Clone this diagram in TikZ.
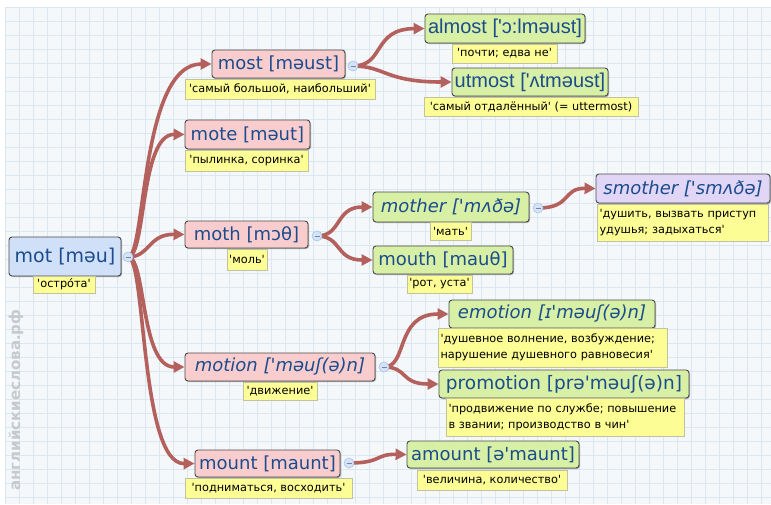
\documentclass[tikz,border=0pt]{standalone}
\usepackage{fontspec}
\setmainfont{DejaVu Sans}
\newfontfamily\trf{DejaVu Sans}
\newfontfamily\thinf{Liberation Sans}
\usetikzlibrary{arrows.meta,backgrounds,shadows}
\definecolor{bgcol}{HTML}{F4F8FB}
\definecolor{gridcol}{HTML}{DDE7F0}
\definecolor{conn}{RGB}{180,96,92}
\definecolor{rootfill}{HTML}{CFE0F8}
\definecolor{pinkfill}{HTML}{F9CDCD}
\definecolor{greenfill}{HTML}{D7F0A5}
\definecolor{lavfill}{HTML}{E2D6F7}
\definecolor{yelfill}{HTML}{FDFD96}
\definecolor{yelborder}{HTML}{C2C2A0}
\definecolor{wordblue}{HTML}{1B4C8E}
\definecolor{boxborder}{HTML}{4A4A4A}
\definecolor{circfill}{HTML}{D4E3F7}
\definecolor{circborder}{HTML}{A9C3E6}
\definecolor{wmark}{HTML}{C6CACE}
\newcommand{\q}{\textquotesingle}
\tikzset{
  word/.style={draw=boxborder, line width=0.9pt, rounded corners=3pt, inner sep=0pt,
    text=wordblue, font=\fontsize{18}{20}\selectfont,
    drop shadow={shadow xshift=1pt,shadow yshift=-1pt,opacity=0.3,fill=black}},
  rootword/.style={word, fill=rootfill, font=\fontsize{19}{21}\selectfont},
  pinkword/.style={word, fill=pinkfill},
  greenword/.style={word, fill=greenfill},
  lavword/.style={word, fill=lavfill},
  itword/.style={font=\itshape\fontsize{18}{20}\selectfont},
  thinword/.style={greenword, font=\thinf\fontsize{20}{22}\selectfont},
  trans/.style={draw=yelborder, fill=yelfill, line width=0.5pt, inner sep=0pt,
    align=left, font=\trf\fontsize{11.3}{16}\selectfont},
  trans2/.style={trans, inner xsep=2.5pt, text width=#1},
  collapse/.style={circle, draw=circborder, fill=circfill, line width=0.6pt,
    minimum size=10pt, inner sep=0pt},
  link/.style={draw=conn, line width=3.6pt, line cap=round,
    -{Triangle[length=11pt,width=11pt]}},
}
\begin{document}
\begin{tikzpicture}[x=1pt,y=-1pt]
\useasboundingbox (0,0) rectangle (771,504);
\begin{pgfonlayer}{background}
  \fill[white] (0,0) rectangle (771,504);
  \fill[bgcol] (5,7) rectangle (771,504);
  \foreach \x in {5,19,...,771} \draw[gridcol, line width=0.5pt] (\x,7) -- (\x,504);
  \foreach \y in {7,21,...,504} \draw[gridcol, line width=0.5pt] (5,\y) -- (771,\y);
\end{pgfonlayer}

\node[rotate=90, text=wmark, font=\bfseries\fontsize{15}{17}\selectfont] (wm) at (16,400) {английскиеслова.рф};

% root
\node[rootword, minimum width=112pt, minimum height=39pt] (mot) at (65,256.5) {mot [məu]};
\node[trans, minimum width=62pt, minimum height=17pt] (motT) at (64,284.5) {\q остро́та\q};
\node[collapse] (c0) at (128,257) {};

% most
\node[pinkword, minimum width=133pt, minimum height=28pt] (most) at (278.5,64) {most [məust]};
\node[trans, minimum width=190pt, minimum height=20pt] (mostT) at (280,89) {\q самый большой, наибольший\q};
\node[collapse] (c1) at (353,66) {};

\node[thinword, minimum width=160pt, minimum height=29pt] (almost) at (505,28.5) {almost [\q ɔ:lməust]};
\node[trans, minimum width=105pt, minimum height=19pt] (almostT) at (504.5,53.5) {\q почти; едва не\q};
\node[thinword, minimum width=156pt, minimum height=28pt] (utmost) at (530,82) {utmost [\q ʌtməust]};
\node[trans, minimum width=214pt, minimum height=19pt] (utmostT) at (531,106.5) {\q самый отдалённый\q{} (= uttermost)};

% mote
\node[pinkword, minimum width=125pt, minimum height=29pt] (mote) at (247.5,134.5) {mote [məut]};
\node[trans, minimum width=123pt, minimum height=21pt] (moteT) at (246.5,160.5) {\q пылинка, соринка\q};

% moth
\node[pinkword, minimum width=123pt, minimum height=27pt] (moth) at (246.5,234.5) {moth [mɔθ]};
\node[trans, minimum width=40pt, minimum height=21pt] (mothT) at (247,259.5) {\q моль\q};
\node[collapse] (c2) at (317,236) {};

\node[greenword, itword, minimum width=156pt, minimum height=30pt] (mother) at (451,207) {mother [\q mʌðə]};
\node[trans, minimum width=41pt, minimum height=18pt] (motherT) at (450.5,231) {\q мать\q};
\node[collapse] (c3) at (538,208) {};

\node[lavword, itword, minimum width=174pt, minimum height=29pt] (smother) at (683,188.5) {smother [\q smʌðə]};
\node[trans2=166pt, minimum height=37pt] (smotherT) at (682.5,222.5) {\q душить, вызвать приступ\\удушья; задыхаться\q};

\node[greenword, minimum width=140pt, minimum height=28pt] (mouth) at (443,260) {mouth [mauθ]};
\node[trans, minimum width=65pt, minimum height=18pt] (mouthT) at (439.5,284) {\q рот, уста\q};

% motion
\node[pinkword, itword, minimum width=190pt, minimum height=28pt] (motion) at (280,367) {motion [\q məuʃ(ə)n]};
\node[trans, minimum width=74pt, minimum height=18pt] (motionT) at (280,391) {\q движение\q};
\node[collapse] (c4) at (384,367) {};

\node[greenword, itword, minimum width=206pt, minimum height=28pt] (emotion) at (552,314) {emotion [ɪ\q məuʃ(ə)n]};
\node[trans2=224pt, minimum height=39pt] (emotionT) at (552.5,347.5) {\q душевное волнение, возбуждение;\\нарушение душевного равновесия\q};

\node[greenword, minimum width=250pt, minimum height=28pt, font=\fontsize{18.5}{20}\selectfont] (promotion) at (564,384) {promotion [prə\q məuʃ(ə)n]};
\node[trans2=233pt, minimum height=38pt] (promotionT) at (565,417) {\q продвижение по службе; повышение\\в звании; производство в чин\q};

% mount
\node[pinkword, minimum width=145pt, minimum height=27pt] (mount) at (267.5,463.5) {mount [maunt]};
\node[trans, minimum width=167pt, minimum height=20pt] (mountT) at (268.5,488) {\q подниматься, восходить\q};
\node[collapse] (c5) at (349,463) {};

\node[greenword, minimum width=172pt, minimum height=27pt] (amount) at (493,454.5) {amount [ə\q maunt]};
\node[trans, minimum width=150pt, minimum height=20pt] (amountT) at (492,480) {\q величина, количество\q};

% minus signs in collapse circles
\foreach \c in {c0,c1,c2,c3,c4,c5}
  \draw[circborder!70!black, line width=0.6pt] ([xshift=-2.5pt]\c.center) -- ([xshift=2.5pt]\c.center);

\begin{pgfonlayer}{background}
  \path[link] (c0.center) .. controls (146,257) and (140,64) .. (most.west);
  \path[link] (c0.center) .. controls (146,257) and (140,134) .. (mote.west);
  \path[link] (c0.center) .. controls (150,257) and (148,234) .. (moth.west);
  \path[link] (c0.center) .. controls (146,257) and (140,367) .. (motion.west);
  \path[link] (c0.center) .. controls (146,257) and (140,464) .. (mount.west);

  \path[link] (c1.center) .. controls (385,66) and (372,29) .. (almost.west);
  \path[link] (c1.center) .. controls (385,66) and (385,82) .. (utmost.west);

  \path[link] (c2.center) .. controls (342,236) and (335,207) .. (mother.west);
  \path[link] (c2.center) .. controls (342,236) and (335,260) .. (mouth.west);

  \path[link] (c3.center) .. controls (572,208) and (562,188) .. (smother.west);

  \path[link] (c4.center) .. controls (408,367) and (395,314) .. (emotion.west);
  \path[link] (c4.center) .. controls (408,367) and (400,384) .. (promotion.west);

  \path[link] (c5.center) .. controls (382,463) and (375,454) .. (amount.west);
\end{pgfonlayer}
\end{tikzpicture}
\end{document}
